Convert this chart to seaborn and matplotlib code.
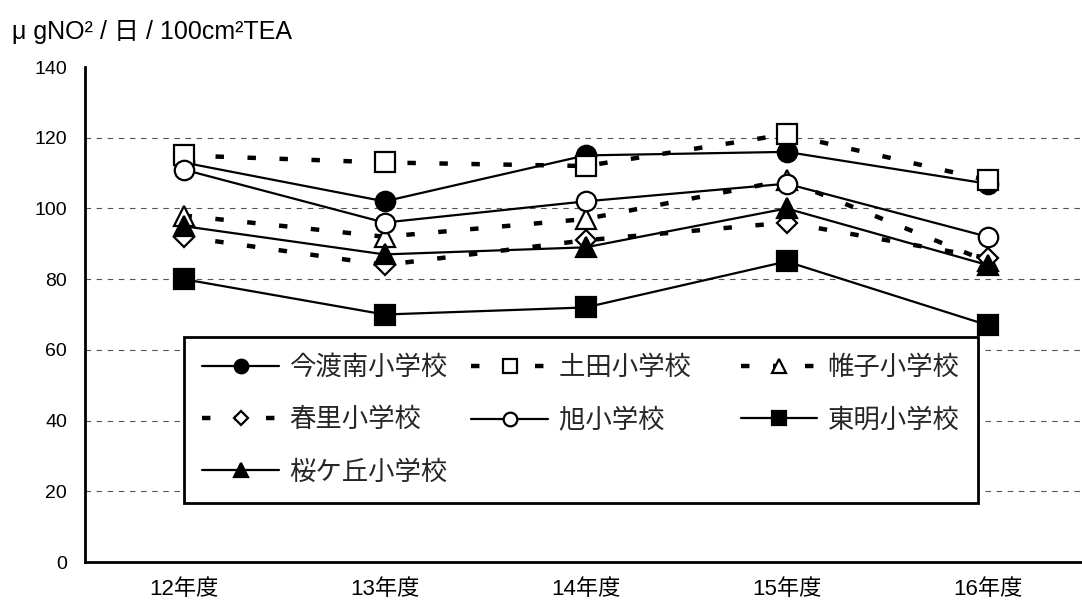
import numpy as np
import pandas as pd
import matplotlib
matplotlib.use("Agg")
import matplotlib.pyplot as plt
import seaborn as sns

sns.set_theme(style="white")
plt.rcParams["font.family"] = ["Liberation Sans", "Noto Sans CJK JP", "DejaVu Sans"]

# ---- data ----
years = ["12年度", "13年度", "14年度", "15年度", "16年度"]
imawatari_minami = [113, 102, 115, 116, 107]
tsuchida = [115, 113, 112, 121, 108]
katabira = [98, 92, 97, 108, 85]
harusato = [92, 84, 91, 96, 86]
asahi = [111, 96, 102, 107, 92]
tomei = [80, 70, 72, 85, 67]
sakuragaoka = [95, 87, 89, 100, 84]

schools = ["今渡南小学校", "土田小学校", "帷子小学校", "春里小学校",
           "旭小学校", "東明小学校", "桜ケ丘小学校"]
series = [imawatari_minami, tsuchida, katabira, harusato, asahi, tomei, sakuragaoka]

y_ticks = [0, 20, 40, 60, 80, 100, 120, 140]
y_title = "μ gNO² / 日 / 100cm²TEA"

# ---- styles ----
dash = (0, (1.9, 5.3))
styles = {
    "今渡南小学校": dict(marker="o", ms=14, mfc="black", ls="-", lw=1.6),
    "土田小学校": dict(marker="s", ms=14, mfc="white", ls=dash, lw=3.2),
    "帷子小学校": dict(marker="^", ms=14, mfc="white", ls=dash, lw=3.2),
    "春里小学校": dict(marker="D", ms=10, mfc="white", ls=dash, lw=3.2),
    "旭小学校": dict(marker="o", ms=14, mfc="white", ls="-", lw=1.6),
    "東明小学校": dict(marker="s", ms=14, mfc="black", ls="-", lw=1.6),
    "桜ケ丘小学校": dict(marker="^", ms=14, mfc="black", ls="-", lw=1.6),
}

fig = plt.figure(figsize=(10.82, 6.06), dpi=100)
ax = fig.add_axes([0.0786, 0.0726, 0.9214, 0.8168])

x = np.arange(len(years))
for name, vals in zip(schools, series):
    df = pd.DataFrame({"x": x, "y": vals})
    st = styles[name]
    sns.lineplot(data=df, x="x", y="y", ax=ax, color="black",
                 marker=st["marker"], markersize=st["ms"],
                 markerfacecolor=st["mfc"], markeredgecolor="black",
                 markeredgewidth=1.6, linewidth=st["lw"], label=name)
    ln = ax.lines[-1]
    ln.set_linestyle(st["ls"])
    ln.set_dash_capstyle("butt")

# ---- axes ----
ax.set_xlim(-0.49, 4.47)
ax.set_ylim(0, 140)
ax.set_xticks(x)
ax.set_xticks(np.arange(0.5, 4.0, 1.0), minor=True)
ax.set_xticklabels(years, fontsize=16)
ax.set_yticks(y_ticks)
ax.set_yticklabels([str(v) for v in y_ticks], fontsize=14)
ax.set_xlabel("")
ax.set_ylabel("")
ax.tick_params(axis="both", which="both", direction="in", length=6,
               width=1.6, color="black", labelcolor="black")
ax.tick_params(axis="x", which="major", pad=12)
ax.tick_params(axis="y", pad=13)

for s in ["top", "right"]:
    ax.spines[s].set_visible(False)
for s in ["left", "bottom"]:
    ax.spines[s].set_color("black")
    ax.spines[s].set_linewidth(2.0)

ax.yaxis.grid(True, linestyle=(0, (5, 5)), color="#555555", linewidth=0.8)
ax.xaxis.grid(False)
for gl, v in zip(ax.get_ygridlines(), y_ticks):
    if v in (0, 140):
        gl.set_visible(False)

fig.text(0.011, 0.947, y_title, fontsize=18, ha="left", va="center",
         color="black")

# ---- legend (row-major order across 3 evenly spaced columns) ----
handles, labels = ax.get_legend_handles_labels()
order = [0, 3, 6, 1, 4, 2, 5]
leg_labels = [labels[i] for i in order]
# widen the middle column so the three columns line up evenly
leg_labels[3] = leg_labels[3] + "\u3000"
leg_labels[4] = leg_labels[4] + "\u3000\u3000"
leg = ax.legend([handles[i] for i in order], leg_labels,
                ncol=3, loc="upper left", bbox_to_anchor=(0.170, 0.444),
                bbox_transform=fig.transFigure, fontsize=19, frameon=True,
                fancybox=False, handlelength=2.9, handletextpad=0.4,
                columnspacing=0.9, labelspacing=1.05, borderpad=0.7,
                borderaxespad=0, markerscale=0.7)
leg.get_frame().set_edgecolor("black")
leg.get_frame().set_linewidth(2.0)
leg.get_frame().set_facecolor("white")
leg.get_frame().set_alpha(1)

fig.savefig("out.png", dpi=100)
